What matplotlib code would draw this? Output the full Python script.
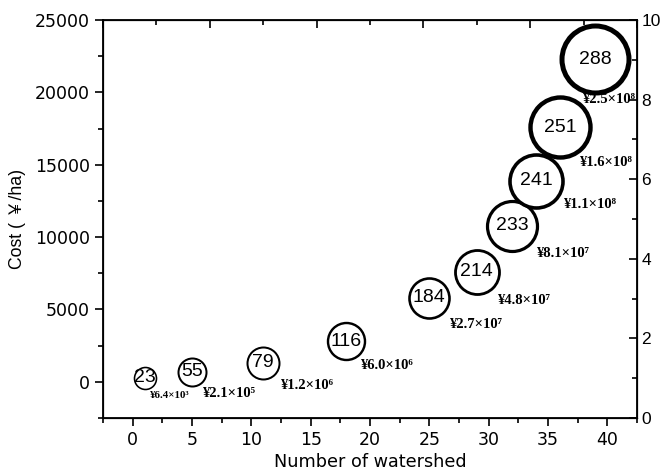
import matplotlib
matplotlib.use("Agg")
import matplotlib.pyplot as plt
from matplotlib.ticker import MultipleLocator, NullFormatter

# ---- data ----
watersheds = [1, 5, 11, 18, 25, 29, 32, 34, 36, 39]
cost_per_ha = [280, 700, 1320, 2800, 5800, 7600, 10800, 13900, 17600, 22300]
bubble_labels = ["23", "55", "79", "116", "184", "214", "233", "241", "251", "288"]
total_cost_labels = ["¥6.4×10³", "¥2.1×10⁵", "¥1.2×10⁶", "¥6.0×10⁶", "¥2.7×10⁷",
                     "¥4.8×10⁷", "¥8.1×10⁷", "¥1.1×10⁸", "¥1.6×10⁸", "¥2.5×10⁸"]

# ---- styling (sizes in pixels, offsets in pixels) ----
radius_px = [11, 14, 16, 18.5, 20, 22, 25, 26.5, 30, 33.5]
ring_px = [1.6, 2.0, 2.0, 2.4, 2.6, 2.8, 3.2, 3.6, 4.4, 5.0]
label_dx = [5, 10, 17, 14, 20, 20, 24, 27, 19, -13]
label_dy = [-18, -22, -23, -24, -27, -29, -28, -24, -35, -40]
label_fs = [7.8, 10.5, 10.5, 10.5, 10.5, 10.5, 10.5, 10.5, 10.5, 10.5]

DPI = 100
fig = plt.figure(figsize=(6.62, 4.75), dpi=DPI)
ax = fig.add_axes([0.1556, 0.12, 0.9622 - 0.1556, 0.9579 - 0.12])

sans = ["Liberation Sans", "DejaVu Sans"]
plt.rcParams["font.family"] = sans

px2pt = 72.0 / DPI
for x, y, r, lw, txt in zip(watersheds, cost_per_ha, radius_px, ring_px, bubble_labels):
    ax.scatter([x], [y], s=(2 * r * px2pt) ** 2, facecolors="white",
               edgecolors="black", linewidths=lw * px2pt, zorder=3)
    ax.text(x, y, txt, ha="center", va="center", fontsize=14,
            family=sans, zorder=4)

for x, y, t, dx, dy, fs in zip(watersheds, cost_per_ha, total_cost_labels,
                               label_dx, label_dy, label_fs):
    ax.annotate(t, xy=(x, y), xytext=(dx, dy), textcoords="offset pixels",
                ha="left", va="center", fontsize=fs, fontweight="bold",
                family=["Liberation Serif", "DejaVu Serif"], zorder=5)

ax.set_xlim(-2.5, 42.5)
ax.set_ylim(-2500, 25000)
ax.xaxis.set_major_locator(MultipleLocator(5))
ax.xaxis.set_minor_locator(MultipleLocator(2.5))
ax.yaxis.set_major_locator(MultipleLocator(5000))
ax.yaxis.set_minor_locator(MultipleLocator(2500))
ax.tick_params(which="both", direction="out", width=1.2, labelsize=12.5,
               top=False, right=False)
ax.tick_params(which="major", length=6)
ax.tick_params(which="minor", length=3.5)
for s in ax.spines.values():
    s.set_linewidth(1.3)

ax.set_xlabel("Number of watershed", fontsize=12.7, labelpad=3)
ax.set_ylabel("Cost ( ￥/ha)", fontsize=12.7,
              family=["Liberation Sans", "Noto Sans CJK SC"], labelpad=6)

# right axis 0-10
axr = ax.twinx()
axr.set_ylim(0, 10)
axr.yaxis.set_major_locator(MultipleLocator(2))
axr.yaxis.set_minor_locator(MultipleLocator(1))
axr.tick_params(which="both", direction="in", width=1.2, labelsize=12.5, pad=3)
axr.tick_params(which="major", length=6)
axr.tick_params(which="minor", length=3.5)

# top axis 0-10, no labels
axt = ax.twiny()
axt.set_xlim(0, 10)
axt.xaxis.set_major_locator(MultipleLocator(2))
axt.xaxis.set_minor_locator(MultipleLocator(1))
axt.xaxis.set_major_formatter(NullFormatter())
axt.tick_params(which="both", direction="in", width=1.2)
axt.tick_params(which="major", length=6)
axt.tick_params(which="minor", length=3.5)

fig.savefig("out.png", dpi=DPI)
